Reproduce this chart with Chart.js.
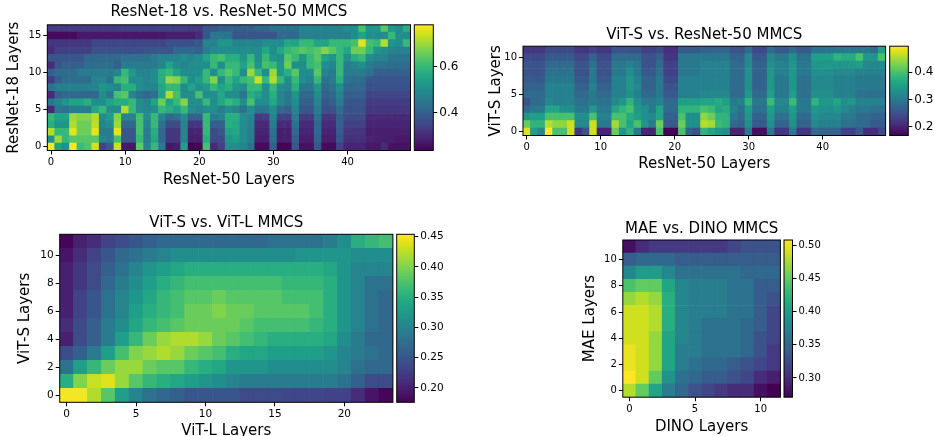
<!DOCTYPE html>
<html>
<head>
<meta charset="utf-8">
<script src="https://cdn.jsdelivr.net/npm/chart.js@4.4.1/dist/chart.umd.min.js"></script>
<style>
  html, body { margin: 0; padding: 0; background: #fff; width: 934px; height: 436px; overflow: hidden; position: relative; }
  canvas { position: absolute; }
</style>
</head>
<body>
<canvas id="hm1"></canvas><canvas id="cb1"></canvas>
<canvas id="hm2"></canvas><canvas id="cb2"></canvas>
<canvas id="hm3"></canvas><canvas id="cb3"></canvas>
<canvas id="hm4"></canvas><canvas id="cb4"></canvas>
<script>
// ---------- categories (layer indices along the x axis) ----------
const r50Layers = [0,1,2,3,4,5,6,7,8,9,10,11,12,13,14,15,16,17,18,19,20,21,22,23,24,25,26,27,28,29,30,31,32,33,34,35,36,37,38,39,40,41,42,43,44,45,46,47,48];
const vitLLayers = [0,1,2,3,4,5,6,7,8,9,10,11,12,13,14,15,16,17,18,19,20,21,22,23];
const dinoLayers = [0,1,2,3,4,5,6,7,8,9,10,11];

// ---------- tick labels ----------
const r50Ticks = [0,10,20,30,40];
const r18Ticks = [0,5,10,15];
const vitSTicksA = [0,5,10];
const vitLTicks = [0,5,10,15,20];
const vitSTicksB = [0,2,4,6,8,10];
const dinoTicks = [0,5,10];
const maeTicks = [0,2,4,6,8,10];

// ---------- colour bar ranges and ticks ----------
const range1 = [0.235, 0.784];
const range2 = [0.168, 0.496];
const range3 = [0.176, 0.454];
const range4 = [0.271, 0.508];
const cbTicks1 = [0.4, 0.6];
const cbTicks2 = [0.2, 0.3, 0.4];
const cbTicks3 = [0.20, 0.25, 0.30, 0.35, 0.40, 0.45];
const cbTicks4 = [0.30, 0.35, 0.40, 0.45, 0.50];

// ---------- MMCS values, one array per row (row 0 first) ----------
const r18VsR50 = [
  [0.78,0.54,0.51,0.78,0.61,0.63,0.745,0.345,0.39,0.74,0.27,0.27,0.647,0.48,0.60,0.46,0.27,0.28,0.54,0.235,0.24,0.62,0.30,0.34,0.50,0.50,0.48,0.44,0.25,0.25,0.40,0.24,0.24,0.38,0.26,0.26,0.38,0.25,0.25,0.34,0.29,0.29,0.29,0.27,0.27,0.30,0.26,0.26,0.26],
  [0.50,0.70,0.60,0.64,0.64,0.64,0.64,0.48,0.46,0.62,0.38,0.38,0.60,0.46,0.56,0.42,0.32,0.32,0.48,0.28,0.28,0.58,0.36,0.36,0.52,0.54,0.50,0.46,0.28,0.28,0.43,0.28,0.28,0.40,0.28,0.28,0.40,0.28,0.28,0.38,0.31,0.31,0.31,0.29,0.28,0.28,0.28,0.27,0.27],
  [0.72,0.60,0.60,0.76,0.66,0.66,0.76,0.46,0.46,0.76,0.38,0.38,0.62,0.46,0.58,0.42,0.32,0.32,0.48,0.29,0.29,0.60,0.36,0.38,0.55,0.56,0.50,0.46,0.29,0.29,0.44,0.28,0.28,0.42,0.29,0.29,0.42,0.29,0.29,0.39,0.32,0.32,0.32,0.28,0.28,0.28,0.28,0.28,0.28],
  [0.58,0.52,0.52,0.72,0.66,0.66,0.73,0.48,0.50,0.70,0.42,0.42,0.62,0.48,0.60,0.44,0.36,0.36,0.48,0.32,0.32,0.60,0.40,0.40,0.58,0.56,0.50,0.47,0.30,0.30,0.46,0.30,0.30,0.44,0.30,0.30,0.42,0.30,0.30,0.40,0.34,0.34,0.34,0.29,0.29,0.29,0.29,0.29,0.29],
  [0.60,0.55,0.55,0.70,0.68,0.68,0.72,0.50,0.53,0.68,0.48,0.48,0.62,0.50,0.60,0.48,0.42,0.44,0.50,0.40,0.40,0.60,0.46,0.48,0.58,0.58,0.50,0.48,0.33,0.34,0.48,0.34,0.34,0.46,0.33,0.33,0.44,0.32,0.32,0.40,0.36,0.36,0.36,0.30,0.30,0.30,0.30,0.30,0.30],
  [0.30,0.45,0.44,0.46,0.46,0.46,0.56,0.60,0.50,0.50,0.72,0.60,0.50,0.48,0.50,0.60,0.58,0.54,0.60,0.50,0.48,0.50,0.50,0.46,0.50,0.48,0.44,0.50,0.45,0.45,0.50,0.42,0.40,0.48,0.38,0.38,0.46,0.37,0.37,0.43,0.37,0.37,0.37,0.32,0.32,0.32,0.32,0.32,0.32],
  [0.45,0.48,0.52,0.55,0.55,0.58,0.50,0.50,0.55,0.58,0.57,0.60,0.50,0.48,0.55,0.66,0.55,0.60,0.68,0.50,0.50,0.60,0.50,0.56,0.60,0.58,0.50,0.62,0.50,0.50,0.56,0.48,0.45,0.50,0.40,0.40,0.48,0.38,0.40,0.46,0.38,0.38,0.38,0.33,0.33,0.33,0.33,0.33,0.33],
  [0.30,0.40,0.42,0.42,0.42,0.42,0.42,0.50,0.45,0.62,0.64,0.48,0.44,0.42,0.44,0.55,0.72,0.62,0.50,0.50,0.62,0.50,0.50,0.56,0.50,0.50,0.45,0.58,0.55,0.50,0.58,0.48,0.45,0.52,0.42,0.42,0.50,0.40,0.42,0.48,0.40,0.40,0.40,0.35,0.35,0.35,0.35,0.35,0.35],
  [0.44,0.47,0.47,0.47,0.47,0.47,0.48,0.52,0.50,0.48,0.58,0.58,0.50,0.48,0.48,0.56,0.60,0.60,0.50,0.55,0.50,0.53,0.60,0.55,0.58,0.52,0.50,0.60,0.60,0.50,0.60,0.50,0.48,0.58,0.45,0.45,0.52,0.42,0.44,0.50,0.42,0.42,0.42,0.37,0.37,0.37,0.37,0.37,0.37],
  [0.33,0.40,0.43,0.43,0.43,0.43,0.48,0.48,0.44,0.60,0.62,0.50,0.50,0.48,0.50,0.58,0.70,0.68,0.60,0.50,0.54,0.60,0.68,0.50,0.60,0.55,0.60,0.62,0.74,0.60,0.72,0.60,0.50,0.60,0.50,0.48,0.60,0.44,0.46,0.58,0.44,0.43,0.43,0.38,0.38,0.38,0.38,0.38,0.38],
  [0.40,0.43,0.43,0.43,0.46,0.46,0.46,0.46,0.46,0.48,0.60,0.53,0.48,0.48,0.50,0.58,0.60,0.55,0.50,0.50,0.50,0.60,0.50,0.60,0.64,0.60,0.50,0.70,0.60,0.50,0.70,0.52,0.58,0.64,0.50,0.50,0.64,0.48,0.46,0.60,0.46,0.46,0.46,0.44,0.40,0.40,0.40,0.40,0.40],
  [0.30,0.38,0.40,0.40,0.40,0.43,0.43,0.43,0.43,0.40,0.46,0.46,0.46,0.46,0.46,0.48,0.55,0.50,0.48,0.50,0.50,0.50,0.60,0.50,0.60,0.60,0.55,0.62,0.52,0.62,0.60,0.52,0.66,0.50,0.50,0.60,0.62,0.50,0.48,0.60,0.46,0.48,0.50,0.46,0.44,0.44,0.43,0.43,0.43],
  [0.38,0.38,0.38,0.38,0.38,0.42,0.42,0.42,0.42,0.42,0.44,0.44,0.44,0.44,0.46,0.48,0.48,0.48,0.50,0.48,0.50,0.55,0.60,0.62,0.58,0.58,0.52,0.60,0.50,0.60,0.52,0.50,0.64,0.60,0.52,0.60,0.64,0.55,0.52,0.60,0.50,0.58,0.60,0.50,0.48,0.48,0.45,0.45,0.45],
  [0.30,0.34,0.34,0.34,0.34,0.34,0.37,0.37,0.37,0.37,0.37,0.37,0.37,0.38,0.38,0.38,0.38,0.42,0.42,0.42,0.40,0.46,0.50,0.50,0.50,0.50,0.50,0.50,0.50,0.56,0.50,0.56,0.60,0.62,0.64,0.62,0.64,0.68,0.64,0.60,0.56,0.66,0.66,0.60,0.52,0.50,0.48,0.47,0.47],
  [0.32,0.32,0.32,0.32,0.32,0.32,0.35,0.35,0.35,0.35,0.35,0.35,0.35,0.35,0.35,0.35,0.37,0.37,0.37,0.37,0.38,0.48,0.48,0.52,0.52,0.48,0.48,0.48,0.48,0.50,0.50,0.50,0.56,0.55,0.60,0.60,0.55,0.55,0.60,0.60,0.60,0.62,0.76,0.62,0.60,0.72,0.52,0.50,0.60],
  [0.25,0.25,0.25,0.25,0.27,0.27,0.27,0.27,0.27,0.27,0.27,0.27,0.27,0.27,0.27,0.27,0.28,0.28,0.28,0.28,0.30,0.38,0.45,0.45,0.45,0.38,0.38,0.38,0.38,0.38,0.38,0.42,0.42,0.42,0.47,0.47,0.47,0.47,0.47,0.47,0.47,0.50,0.55,0.50,0.50,0.50,0.60,0.50,0.50],
  [0.33,0.33,0.33,0.33,0.33,0.33,0.33,0.33,0.33,0.33,0.34,0.34,0.34,0.34,0.34,0.34,0.34,0.34,0.34,0.33,0.33,0.38,0.38,0.40,0.40,0.40,0.40,0.40,0.42,0.42,0.44,0.44,0.44,0.44,0.48,0.48,0.48,0.48,0.48,0.48,0.50,0.50,0.62,0.52,0.52,0.64,0.52,0.50,0.58]
];

const vitSVsR50 = [
  [0.48,0.35,0.32,0.50,0.40,0.40,0.47,0.22,0.25,0.47,0.20,0.20,0.42,0.34,0.38,0.30,0.20,0.20,0.40,0.17,0.17,0.40,0.27,0.25,0.38,0.36,0.34,0.33,0.20,0.20,0.30,0.18,0.18,0.30,0.22,0.22,0.30,0.22,0.22,0.28,0.27,0.27,0.27,0.23,0.23,0.26,0.21,0.21,0.24],
  [0.42,0.38,0.38,0.46,0.44,0.44,0.47,0.32,0.32,0.47,0.30,0.30,0.45,0.40,0.36,0.40,0.34,0.30,0.42,0.26,0.26,0.42,0.33,0.33,0.46,0.45,0.39,0.38,0.28,0.27,0.33,0.26,0.26,0.33,0.27,0.27,0.33,0.27,0.27,0.32,0.31,0.31,0.31,0.29,0.29,0.28,0.28,0.26,0.26],
  [0.34,0.35,0.35,0.40,0.40,0.40,0.40,0.33,0.33,0.40,0.31,0.31,0.40,0.40,0.37,0.35,0.33,0.32,0.36,0.27,0.27,0.40,0.33,0.33,0.44,0.42,0.38,0.38,0.30,0.28,0.34,0.27,0.27,0.34,0.29,0.29,0.34,0.28,0.28,0.33,0.32,0.32,0.32,0.30,0.30,0.28,0.28,0.27,0.27],
  [0.28,0.30,0.30,0.36,0.36,0.33,0.33,0.30,0.30,0.34,0.30,0.30,0.36,0.38,0.40,0.34,0.33,0.30,0.36,0.28,0.28,0.38,0.38,0.38,0.40,0.39,0.36,0.37,0.31,0.29,0.35,0.29,0.29,0.35,0.31,0.31,0.35,0.30,0.30,0.34,0.33,0.33,0.34,0.32,0.31,0.30,0.30,0.29,0.29],
  [0.25,0.28,0.28,0.32,0.31,0.31,0.31,0.29,0.29,0.30,0.29,0.29,0.32,0.34,0.38,0.33,0.30,0.30,0.31,0.28,0.28,0.35,0.35,0.35,0.36,0.36,0.37,0.35,0.30,0.31,0.38,0.30,0.30,0.39,0.32,0.32,0.39,0.30,0.30,0.38,0.34,0.34,0.36,0.33,0.34,0.31,0.31,0.31,0.31],
  [0.28,0.28,0.28,0.31,0.31,0.31,0.31,0.28,0.28,0.30,0.28,0.28,0.31,0.31,0.33,0.31,0.28,0.28,0.30,0.26,0.26,0.31,0.31,0.31,0.32,0.32,0.32,0.32,0.28,0.28,0.34,0.28,0.28,0.35,0.30,0.30,0.35,0.29,0.29,0.33,0.33,0.33,0.31,0.31,0.31,0.29,0.29,0.29,0.29],
  [0.27,0.27,0.27,0.31,0.31,0.31,0.31,0.27,0.27,0.31,0.27,0.27,0.31,0.31,0.34,0.32,0.27,0.27,0.30,0.25,0.25,0.31,0.31,0.31,0.31,0.31,0.31,0.31,0.28,0.28,0.33,0.27,0.27,0.34,0.30,0.30,0.34,0.29,0.29,0.32,0.32,0.32,0.31,0.31,0.31,0.30,0.30,0.30,0.30],
  [0.26,0.26,0.26,0.30,0.30,0.30,0.30,0.26,0.26,0.30,0.26,0.26,0.31,0.31,0.34,0.31,0.27,0.27,0.30,0.24,0.24,0.31,0.31,0.31,0.31,0.31,0.31,0.31,0.28,0.28,0.33,0.27,0.27,0.34,0.30,0.30,0.34,0.29,0.29,0.32,0.32,0.32,0.31,0.31,0.31,0.30,0.30,0.30,0.30],
  [0.25,0.25,0.25,0.29,0.29,0.29,0.29,0.25,0.25,0.30,0.25,0.25,0.30,0.30,0.33,0.30,0.26,0.26,0.29,0.23,0.23,0.30,0.30,0.30,0.31,0.31,0.31,0.31,0.28,0.28,0.33,0.27,0.27,0.34,0.31,0.31,0.34,0.30,0.30,0.33,0.33,0.33,0.32,0.32,0.32,0.31,0.31,0.31,0.31],
  [0.25,0.25,0.25,0.28,0.28,0.28,0.28,0.25,0.25,0.29,0.25,0.25,0.30,0.30,0.31,0.30,0.25,0.25,0.28,0.23,0.23,0.30,0.30,0.30,0.31,0.31,0.31,0.31,0.28,0.28,0.32,0.27,0.27,0.33,0.31,0.31,0.34,0.30,0.30,0.34,0.34,0.34,0.34,0.34,0.34,0.35,0.32,0.32,0.32],
  [0.24,0.24,0.24,0.26,0.26,0.26,0.26,0.24,0.24,0.27,0.24,0.24,0.28,0.28,0.28,0.28,0.25,0.25,0.27,0.22,0.22,0.30,0.30,0.30,0.30,0.30,0.30,0.30,0.27,0.27,0.32,0.26,0.26,0.32,0.30,0.30,0.33,0.29,0.29,0.35,0.35,0.35,0.38,0.37,0.37,0.40,0.34,0.34,0.40],
  [0.22,0.22,0.22,0.24,0.24,0.24,0.24,0.22,0.22,0.23,0.22,0.22,0.25,0.25,0.25,0.25,0.23,0.23,0.24,0.21,0.21,0.26,0.26,0.26,0.27,0.27,0.27,0.27,0.25,0.25,0.28,0.24,0.24,0.28,0.26,0.26,0.28,0.26,0.26,0.29,0.29,0.29,0.30,0.30,0.30,0.30,0.30,0.28,0.35]
];

const vitSVsVitL = [
  [0.45,0.45,0.42,0.38,0.33,0.30,0.28,0.27,0.26,0.25,0.25,0.25,0.25,0.24,0.24,0.24,0.235,0.235,0.235,0.23,0.23,0.21,0.19,0.18],
  [0.35,0.40,0.43,0.44,0.41,0.38,0.36,0.35,0.34,0.33,0.32,0.31,0.30,0.29,0.29,0.29,0.29,0.29,0.29,0.29,0.28,0.26,0.24,0.24],
  [0.28,0.33,0.36,0.39,0.41,0.41,0.39,0.38,0.38,0.36,0.35,0.34,0.32,0.32,0.32,0.31,0.31,0.31,0.31,0.31,0.30,0.28,0.27,0.27],
  [0.24,0.26,0.29,0.33,0.37,0.40,0.41,0.42,0.41,0.39,0.38,0.37,0.35,0.34,0.34,0.33,0.33,0.33,0.33,0.32,0.30,0.29,0.28,0.27],
  [0.20,0.24,0.26,0.29,0.33,0.36,0.39,0.41,0.42,0.42,0.41,0.39,0.38,0.37,0.36,0.35,0.35,0.35,0.35,0.34,0.31,0.29,0.27,0.27],
  [0.21,0.24,0.26,0.29,0.31,0.34,0.36,0.37,0.38,0.39,0.39,0.39,0.39,0.38,0.37,0.37,0.37,0.37,0.36,0.35,0.32,0.30,0.28,0.27],
  [0.20,0.23,0.25,0.28,0.30,0.33,0.35,0.36,0.37,0.39,0.39,0.40,0.39,0.39,0.38,0.38,0.38,0.38,0.37,0.35,0.32,0.30,0.28,0.27],
  [0.20,0.23,0.25,0.28,0.30,0.32,0.34,0.36,0.37,0.38,0.38,0.39,0.38,0.38,0.38,0.38,0.37,0.37,0.37,0.35,0.32,0.30,0.28,0.27],
  [0.20,0.22,0.24,0.27,0.29,0.31,0.33,0.35,0.36,0.37,0.37,0.37,0.37,0.37,0.37,0.37,0.36,0.36,0.36,0.35,0.32,0.30,0.28,0.28],
  [0.20,0.22,0.24,0.26,0.28,0.30,0.32,0.33,0.34,0.35,0.35,0.35,0.35,0.35,0.35,0.35,0.35,0.35,0.35,0.34,0.32,0.30,0.30,0.30],
  [0.19,0.21,0.23,0.25,0.27,0.28,0.29,0.30,0.31,0.31,0.31,0.31,0.31,0.31,0.31,0.31,0.31,0.32,0.32,0.32,0.32,0.31,0.31,0.31],
  [0.18,0.20,0.21,0.23,0.24,0.25,0.26,0.27,0.27,0.27,0.27,0.27,0.27,0.27,0.27,0.28,0.28,0.28,0.28,0.29,0.31,0.35,0.36,0.37]
];

const maeVsDino = [
  [0.48,0.45,0.41,0.37,0.35,0.33,0.32,0.31,0.30,0.30,0.28,0.27],
  [0.51,0.49,0.45,0.39,0.36,0.35,0.34,0.34,0.33,0.32,0.30,0.29],
  [0.50,0.49,0.47,0.41,0.37,0.36,0.35,0.35,0.34,0.33,0.32,0.31],
  [0.50,0.49,0.47,0.41,0.37,0.37,0.36,0.36,0.36,0.35,0.33,0.31],
  [0.49,0.49,0.47,0.41,0.38,0.37,0.36,0.36,0.36,0.35,0.33,0.32],
  [0.49,0.49,0.48,0.42,0.38,0.37,0.36,0.36,0.36,0.35,0.34,0.32],
  [0.49,0.49,0.48,0.42,0.38,0.37,0.37,0.37,0.36,0.36,0.34,0.32],
  [0.47,0.48,0.47,0.42,0.38,0.37,0.37,0.37,0.36,0.36,0.34,0.33],
  [0.44,0.45,0.45,0.41,0.38,0.37,0.37,0.37,0.36,0.36,0.34,0.34],
  [0.38,0.40,0.40,0.38,0.36,0.36,0.36,0.36,0.36,0.35,0.35,0.35],
  [0.34,0.35,0.35,0.35,0.34,0.34,0.34,0.34,0.34,0.34,0.34,0.34],
  [0.28,0.30,0.31,0.31,0.31,0.31,0.31,0.31,0.32,0.33,0.33,0.33]
];

// ---------- drawing ----------
const FONT = 'DejaVu Sans';
const LABEL_SIZE = 15;
const VIRIDIS = ['#440154','#48186a','#472d7b','#424086','#3b528b','#33638d','#2c728e','#26828e',
                 '#21918c','#1fa088','#28ae80','#3fbc73','#5ec962','#84d44b','#addc30','#d8e219','#fde725'];
const VIR_RGB = VIRIDIS.map(h => [1, 3, 5].map(i => parseInt(h.slice(i, i + 2), 16)));

function viridis(t) {
  t = Math.max(0, Math.min(1, t));
  const f = t * (VIR_RGB.length - 1);
  const i = Math.min(Math.floor(f), VIR_RGB.length - 2);
  const u = f - i, a = VIR_RGB[i], b = VIR_RGB[i + 1];
  const c = a.map((v, k) => Math.round(v + (b[k] - v) * u));
  return `rgb(${c[0]},${c[1]},${c[2]})`;
}

// black frame round the plot area
const frame = {
  id: 'frame',
  afterDatasetsDraw(chart) {
    const { ctx, chartArea: a } = chart;
    ctx.save();
    ctx.strokeStyle = '#000';
    ctx.lineWidth = 1;
    ctx.strokeRect(a.left, a.top, a.right - a.left, a.bottom - a.top);
    ctx.restore();
  }
};

function place(id, box) {
  const c = document.getElementById(id);
  c.width = box.w; c.height = box.h;
  c.style.left = box.x + 'px'; c.style.top = box.y + 'px';
  c.style.width = box.w + 'px'; c.style.height = box.h + 'px';
  return c;
}

const font = size => ({ family: FONT, size: size, weight: 'normal', lineHeight: 1.2 });
const tickGrid = { display: true, offset: false, drawOnChartArea: false, drawTicks: true, tickLength: 4, color: '#000', lineWidth: 1 };

function heatmap(s) {
  const canvas = place(s.id, s.box);
  const aL = s.area.l - s.box.x, aT = s.area.t - s.box.y, aR = s.area.r - s.box.x, aB = s.area.b - s.box.y;
  const lh = LABEL_SIZE * 1.2;
  const titlePadTop = (s.titleY - s.box.y) - lh / 2;
  const titlePadBottom = aT - titlePadTop - lh;
  const xAxisH = s.box.h - aB;
  const xTitlePadBottom = s.box.h - lh / 2 - (s.xLabelY - s.box.y);
  const yTitlePadTop = (s.yLabelX - s.box.x) - lh / 2;
  const range = s.range;

  const datasets = s.rows.map((vals, r) => ({
    data: vals.map(() => [r - 0.5, r + 0.5]),
    backgroundColor: vals.map(v => viridis((v - range[0]) / (range[1] - range[0]))),
    borderWidth: 0,
    barPercentage: 1,
    categoryPercentage: 1,
    grouped: false
  }));

  new Chart(canvas, {
    type: 'bar',
    data: { labels: s.cols, datasets },
    options: {
      responsive: false, animation: false, devicePixelRatio: 1,
      layout: { padding: { left: 0, top: 0, bottom: 0, right: s.box.w - aR } },
      plugins: {
        legend: { display: false }, tooltip: { enabled: false },
        title: { display: true, text: s.title, fullSize: false, color: '#000', font: font(LABEL_SIZE),
                 padding: { top: titlePadTop, bottom: titlePadBottom } }
      },
      scales: {
        x: {
          type: 'category', offset: true, grid: tickGrid, border: { display: false },
          ticks: { autoSkip: false, maxRotation: 0, padding: 2, color: '#000', font: font(s.tickSize) },
          title: { display: true, text: s.xLabel, color: '#000', font: font(LABEL_SIZE), padding: { top: 0, bottom: xTitlePadBottom } },
          afterBuildTicks: sc => { sc.ticks = sc.ticks.filter(t => s.xTicks.includes(s.cols[t.value])); },
          afterFit: sc => { sc.height = xAxisH; }
        },
        y: {
          type: 'linear', min: -0.5, max: s.rows.length - 0.5, grid: tickGrid, border: { display: false },
          ticks: { padding: 2, color: '#000', font: font(s.tickSize) },
          title: { display: true, text: s.yLabel, color: '#000', font: font(LABEL_SIZE), padding: { top: yTitlePadTop, bottom: 0 } },
          afterBuildTicks: sc => { sc.ticks = s.yTicks.map(v => ({ value: v })); },
          afterFit: sc => { sc.width = aL; }
        }
      }
    },
    plugins: [frame]
  });
}

function colorbar(s) {
  const canvas = place(s.id, s.box);
  const aL = s.area.l - s.box.x, aT = s.area.t - s.box.y, aR = s.area.r - s.box.x, aB = s.area.b - s.box.y;
  new Chart(canvas, {
    type: 'bar',
    data: {
      labels: [''],
      datasets: [{
        data: [[s.range[0], s.range[1]]],
        backgroundColor: c => {
          const a = c.chart.chartArea;
          if (!a) return VIRIDIS[8];
          const g = c.chart.ctx.createLinearGradient(0, a.bottom, 0, a.top);
          VIRIDIS.forEach((h, i) => g.addColorStop(i / (VIRIDIS.length - 1), h));
          return g;
        },
        borderWidth: 0, barPercentage: 1, categoryPercentage: 1, inflateAmount: 0
      }]
    },
    options: {
      responsive: false, animation: false, devicePixelRatio: 1,
      layout: { padding: { left: aL, top: aT, bottom: s.box.h - aB, right: 0 } },
      plugins: { legend: { display: false }, tooltip: { enabled: false } },
      scales: {
        x: { display: false, offset: true },
        y: {
          position: 'right', min: s.range[0], max: s.range[1], grid: tickGrid, border: { display: false },
          ticks: { padding: 2, color: '#000', font: font(s.tickSize), callback: v => v.toFixed(s.decimals) },
          afterBuildTicks: sc => { sc.ticks = s.ticks.map(v => ({ value: v })); },
          afterFit: sc => { sc.width = s.box.w - aR; }
        }
      }
    },
    plugins: [frame]
  });
}

// ResNet-18 vs. ResNet-50
heatmap({ id: 'hm1', box: { x: 0, y: 0, w: 412, h: 192 }, area: { l: 47.3, t: 24.8, r: 410.5, b: 150.5 },
  rows: r18VsR50, cols: r50Layers, range: range1, xTicks: r50Ticks, yTicks: r18Ticks,
  title: 'ResNet-18 vs. ResNet-50 MMCS', xLabel: 'ResNet-50 Layers', yLabel: 'ResNet-18 Layers',
  titleY: 12.5, xLabelY: 180, yLabelX: 14.5, tickSize: 10 });
colorbar({ id: 'cb1', box: { x: 412, y: 0, w: 50, h: 192 }, area: { l: 414.3, t: 24.8, r: 433.3, b: 150.5 },
  range: range1, ticks: cbTicks1, decimals: 1, tickSize: 12 });

// ViT-S vs. ResNet-50
heatmap({ id: 'hm2', box: { x: 470, y: 20, w: 418, h: 160 }, area: { l: 523, t: 46.2, r: 885.6, b: 135.5 },
  rows: vitSVsR50, cols: r50Layers, range: range2, xTicks: r50Ticks, yTicks: vitSTicksA,
  title: 'ViT-S vs. ResNet-50 MMCS', xLabel: 'ResNet-50 Layers', yLabel: 'ViT-S Layers',
  titleY: 35, xLabelY: 164, yLabelX: 496, tickSize: 10 });
colorbar({ id: 'cb2', box: { x: 888, y: 20, w: 46, h: 160 }, area: { l: 889.7, t: 46.2, r: 908.3, b: 135.5 },
  range: range2, ticks: cbTicks2, decimals: 1, tickSize: 12 });

// ViT-S vs. ViT-L
heatmap({ id: 'hm3', box: { x: 0, y: 200, w: 395, h: 250 }, area: { l: 59.7, t: 234.3, r: 392.9, b: 402.3 },
  rows: vitSVsVitL, cols: vitLLayers, range: range3, xTicks: vitLTicks, yTicks: vitSTicksB,
  title: 'ViT-S vs. ViT-L MMCS', xLabel: 'ViT-L Layers', yLabel: 'ViT-S Layers',
  titleY: 223, xLabelY: 431, yLabelX: 25, tickSize: 10.5 });
colorbar({ id: 'cb3', box: { x: 395, y: 200, w: 50, h: 236 }, area: { l: 396.7, t: 234.3, r: 414.3, b: 402.3 },
  range: range3, ticks: cbTicks3, decimals: 2, tickSize: 10.5 });

// MAE vs. DINO
heatmap({ id: 'hm4', box: { x: 560, y: 200, w: 222, h: 250 }, area: { l: 622.8, t: 240, r: 780.4, b: 397.2 },
  rows: maeVsDino, cols: dinoLayers, range: range4, xTicks: dinoTicks, yTicks: maeTicks,
  title: 'MAE vs. DINO MMCS', xLabel: 'DINO Layers', yLabel: 'MAE Layers',
  titleY: 229, xLabelY: 427, yLabelX: 590, tickSize: 10 });
colorbar({ id: 'cb4', box: { x: 782, y: 200, w: 50, h: 236 }, area: { l: 784, t: 240, r: 792.5, b: 397.2 },
  range: range4, ticks: cbTicks4, decimals: 2, tickSize: 10 });
</script>
</body>
</html>
